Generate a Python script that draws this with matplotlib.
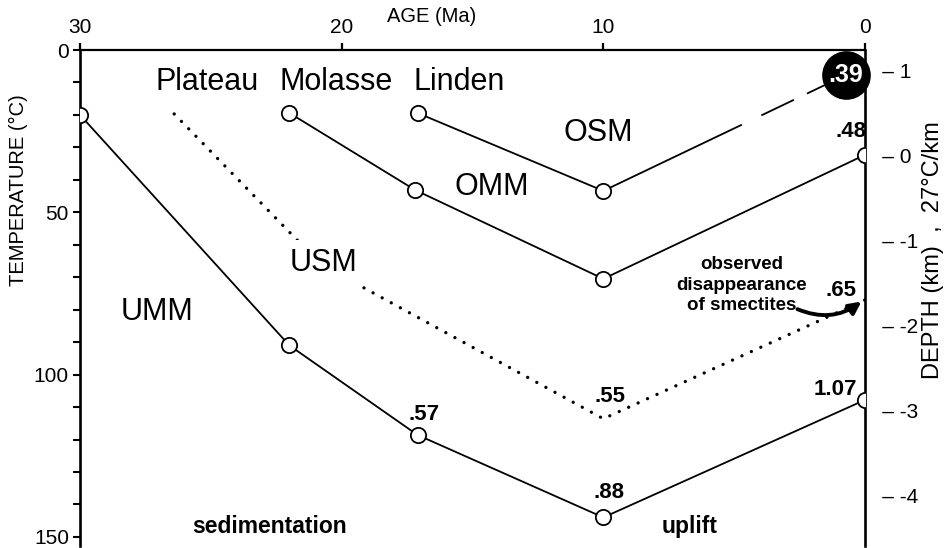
import matplotlib
matplotlib.use("Agg")
import matplotlib.pyplot as plt
from matplotlib.patches import FancyArrowPatch

plt.rcParams['font.family'] = ['Liberation Sans', 'DejaVu Sans']

# ---- data (age in Ma, temperature in deg C) ----
umm_age = [30, 22, 17.1, 10, 0]
umm_T = [20, 91, 118.6, 144, 107.8]
omm_age = [22, 17.2, 10, 0]
omm_T = [19.4, 43.1, 70.5, 32.3]
osm_age = [17.1, 10]
osm_T = [19.4, 43.4]
osm_now_age = [10, 0.73]
osm_now_T = [43.4, 7.7]
usm_age = [26.4, 20.8, 10, 0]
usm_T = [19.7, 66.0, 113.6, 77.0]

# value labels: (age, T, text)
umm_labels = [(17.1, 118.6, '.57'), (10, 144, '.88'), (0, 107.8, '1.07')]
omm_labels = [(0, 32.3, '.48')]
usm_labels = [(10, 113.6, '.55'), (0, 77.0, '.65')]
osm_now_label = '.39'

age_ticks = [30, 20, 10, 0]
temp_ticks = [0, 50, 100, 150]
depth_ticks = [1, 0, -1, -2, -3, -4]
surface_T = 33.0
gradient = 26.2

W, H = 946, 548
fig = plt.figure(figsize=(W / 100, H / 100), dpi=100)
ax = fig.add_axes([80 / W, 1 - 546 / H, (865 - 80) / W, (546 - 50) / H])
ax.set_xlim(30, 0)
ax.set_ylim(152.8, 0)

ax.spines['bottom'].set_visible(False)
ax.spines['left'].set_linewidth(1.9)
ax.spines['right'].set_linewidth(1.9)
ax.spines['top'].set_linewidth(1.6)

ax.xaxis.tick_top()
ax.set_xticks(age_ticks)
ax.set_xticklabels([str(a) for a in age_ticks])
ax.tick_params(axis='x', direction='out', length=5, width=1.6, pad=4, labelsize=15)
ax.set_yticks(temp_ticks)
ax.set_yticks(range(0, 151, 10), minor=True)
ax.tick_params(axis='y', which='both', direction='out', length=5, width=1.5, pad=3, labelsize=15)
ax.tick_params(axis='y', right=False)

# right depth labels
for d in depth_ticks:
    t = surface_T - gradient * d
    lab = '\u2013 %d' % d if d >= 0 else '\u2013 -%d' % (-d)
    ax.text(1.0, t, '   ' + lab, transform=ax.get_yaxis_transform(), ha='left', va='center',
            fontsize=15, clip_on=False)

mk = dict(marker='o', markersize=11, markerfacecolor='white', markeredgecolor='black',
          markeredgewidth=1.3, color='black', lw=1.3)
ax.plot(umm_age, umm_T, **mk, zorder=3)
ax.plot(omm_age, omm_T, **mk, zorder=3)
ax.plot(osm_age, osm_T, **mk, zorder=3)
ax.plot(osm_now_age, osm_now_T, color='black', lw=1.3, linestyle=(0, (85, 12, 20, 8, 20, 8)), zorder=2)
ax.plot(usm_age, usm_T, color='black', lw=2.4, linestyle=(0, (0.01, 3.1)),
        dash_capstyle='round', zorder=2)
ax.plot([osm_now_age[-1]], [osm_now_T[-1]], marker='o', markersize=34, color='black',
        clip_on=False, zorder=5)
ax.text(osm_now_age[-1], osm_now_T[-1], osm_now_label, color='white', fontsize=18,
        fontweight='bold', ha='center', va='center', zorder=6, clip_on=False)

offsets = {'.57': (5, 14.5), '.88': (4, 18), '1.07': (-21, 7.5), '.48': (-10, 16.5),
           '.55': (5, 16), '.65': (-17, 6.5)}
for a, t, s in umm_labels + omm_labels + usm_labels:
    ax.annotate(s, (a, t), xytext=offsets[s], textcoords='offset points',
                ha='center', va='center', fontsize=16, fontweight='bold', zorder=6,
                annotation_clip=False)

# names
big = dict(fontsize=22, ha='center', va='center')
ax.text(25.15, 9.9, 'Plateau', **big)
ax.text(20.2, 9.9, 'Molasse', **big)
ax.text(15.5, 9.9, 'Linden', **big)
ax.text(10.2, 25.6, 'OSM', **big)
ax.text(14.26, 42.2, 'OMM', **big)
ax.text(20.7, 65.6, 'USM', **big, bbox=dict(facecolor='white', edgecolor='none', pad=6), zorder=4)
ax.text(27.06, 80.7, 'UMM', **big)

ax.text(4.7, 72.4, 'observed\ndisappearance\nof smectites', fontsize=13.5, fontweight='bold',
        ha='center', va='center', multialignment='center', linespacing=1.25)
ax.text(22.74, 146.9, 'sedimentation', fontsize=16.5, fontweight='bold', ha='center', va='center')
ax.text(6.69, 146.9, 'uplift', fontsize=16.5, fontweight='bold', ha='center', va='center')

arr = FancyArrowPatch((2.68, 79.5), (0.05, 77.0), arrowstyle='-|>', mutation_scale=18,
                      connectionstyle='arc3,rad=0.3', lw=2.8, color='black', zorder=6,
                      clip_on=False)
ax.add_patch(arr)

fig.text(432 / W, 1 - 17 / H, 'AGE (Ma)', fontsize=14.5, ha='center', va='center')
fig.text(18 / W, 1 - 190 / H, 'TEMPERATURE (\u00b0C)', fontsize=14.5, rotation=90,
         ha='center', va='center')
fig.text(933 / W, 1 - 250 / H, 'DEPTH (km)  ,  27\u00b0C/km', fontsize=17, rotation=90,
         ha='center', va='center')

fig.savefig('out.png', dpi=100)
